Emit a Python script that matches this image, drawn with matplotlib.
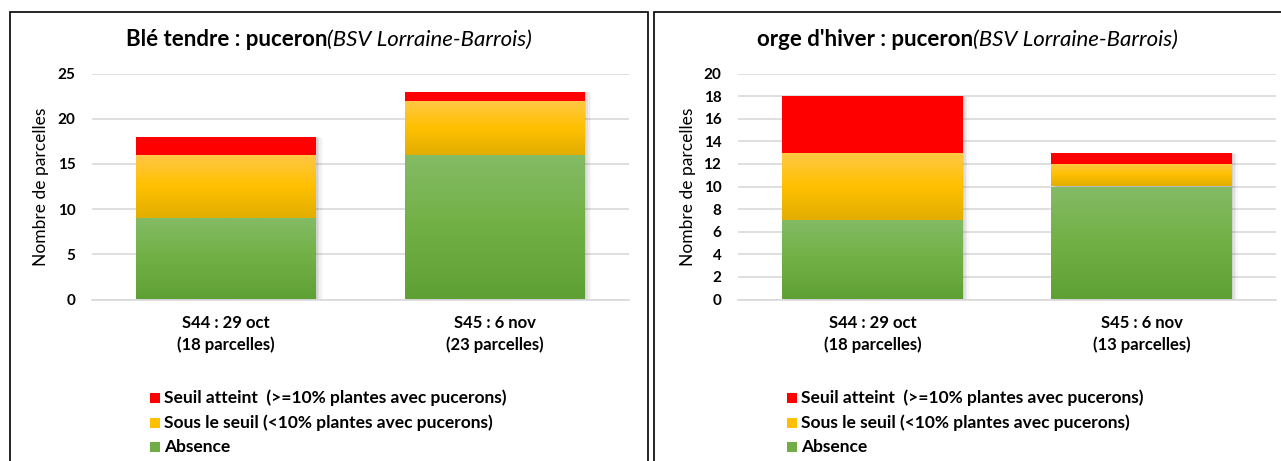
import matplotlib
matplotlib.use("Agg")
import matplotlib.pyplot as plt
import numpy as np
from matplotlib.patches import Rectangle
from matplotlib.colors import LinearSegmentedColormap

# ---- data ----
cats_ble = ["S44 : 29 oct\n(18 parcelles)", "S45 : 6 nov\n(23 parcelles)"]
ble_absence = [9, 16]
ble_sous = [7, 6]
ble_seuil = [2, 1]

cats_orge = ["S44 : 29 oct\n(18 parcelles)", "S45 : 6 nov\n(13 parcelles)"]
orge_absence = [7, 10]
orge_sous = [6, 2]
orge_seuil = [5, 1]

legend_labels = ["Seuil atteint  (>=10% plantes avec pucerons)",
                 "Sous le seuil (<10% plantes avec pucerons)",
                 "Absence"]

plt.rcParams['font.family'] = ['Lato', 'DejaVu Sans']

W, H = 1281, 461
fig = plt.figure(figsize=(W / 100, H / 100), dpi=100)


def fx(px):
    return px / W


def fy(py):
    return 1 - py / H


cmap_green = LinearSegmentedColormap.from_list("g", ["#84BB66", "#71B044", "#5FA035"])
cmap_yellow = LinearSegmentedColormap.from_list("y", ["#FFC847", "#FFC000", "#E2AE00"])
cmap_red = LinearSegmentedColormap.from_list("r", ["#FF0000", "#FF0000"])


def grad_bar(ax, x, bottom, height, width, cmap):
    bars = ax.bar([x], [height], width=width, bottom=[bottom], color='none',
                  edgecolor='none', zorder=3)
    p = bars[0]
    g = np.linspace(0, 1, 64).reshape(-1, 1)
    im = ax.imshow(g, extent=[x - width / 2, x + width / 2, bottom, bottom + height],
                   aspect='auto', cmap=cmap, origin='upper', zorder=3,
                   interpolation='bilinear')
    im.set_clip_path(p)


def panel(left_px, right_px, cats, absence, sous, seuil, ymax, ystep, title_bold,
          border_left, border_right, ylabel_x, legend_x):
    ax = fig.add_axes([fx(left_px), fy(299.5), fx(right_px - left_px), (299.5 - 73.5) / H])
    x = np.arange(len(cats))
    width = 0.67
    absence = np.array(absence)
    sous = np.array(sous)
    seuil = np.array(seuil)
    tot = absence + sous + seuil
    # shadows
    for i in range(len(cats)):
        for k, a in enumerate([0.10, 0.08, 0.06, 0.04]):
            dx = 0.006 * (k + 1)
            ax.add_patch(Rectangle((x[i] - width / 2 + dx, 0), width, tot[i] - 0.05 * ymax / 25 * k,
                                   facecolor='#555555', alpha=a, edgecolor='none', zorder=2))
    for i in range(len(cats)):
        grad_bar(ax, x[i], 0, absence[i], width, cmap_green)
        grad_bar(ax, x[i], absence[i], sous[i], width, cmap_yellow)
        grad_bar(ax, x[i], absence[i] + sous[i], seuil[i], width, cmap_red)
    ax.set_xlim(-0.5, len(cats) - 0.5)
    ax.set_ylim(0, ymax)
    ax.set_yticks(np.arange(0, ymax + 0.1, ystep))
    ax.yaxis.grid(True, color='#D9D9D9', linewidth=1.2, zorder=0)
    ax.set_axisbelow(True)
    for s in ['top', 'right', 'left']:
        ax.spines[s].set_visible(False)
    ax.spines['bottom'].set_color('#D9D9D9')
    ax.spines['bottom'].set_linewidth(1.2)
    ax.tick_params(axis='both', length=0)
    ax.tick_params(axis='y', pad=12, labelsize=11)
    ax.tick_params(axis='x', pad=11, labelsize=12)
    for t in ax.get_yticklabels():
        t.set_fontweight('bold')
    ax.set_xticks(x)
    ax.set_xticklabels(cats, fontweight='bold', linespacing=1.45)
    ax.set_ylabel("Nombre de parcelles", fontsize=12.5)
    ax.yaxis.set_label_coords((ylabel_x - left_px) / (right_px - left_px), 0.5)

    # border
    fig.patches.append(Rectangle((fx(border_left), -0.05), fx(border_right - border_left),
                                 fy(12) + 0.05, transform=fig.transFigure, fill=False,
                                 edgecolor='black', linewidth=1.2))
    # title
    cx = (border_left + min(border_right, W)) / 2
    t1 = fig.text(0, fy(40), title_bold, fontsize=16, fontweight='bold', va='center', ha='left')
    t2 = fig.text(0, fy(40), "(BSV Lorraine-Barrois)", fontsize=16, style='italic', va='center', ha='left')
    fig.canvas.draw()
    r = fig.canvas.get_renderer()
    w1 = t1.get_window_extent(r).width
    w2 = t2.get_window_extent(r).width
    start = cx - (w1 + w2) / 2
    t1.set_x(fx(start))
    t2.set_x(fx(start + w1))

    # legend
    cols = ['#FF0000', '#FFC000', '#70AD47']
    ys = [398, 423, 447]
    for c, y, lab in zip(cols, ys, legend_labels):
        fig.patches.append(Rectangle((fx(legend_x), fy(y + 5)), fx(10), 10 / H,
                                     transform=fig.transFigure, facecolor=c, edgecolor='none'))
        fig.text(fx(legend_x + 14), fy(y), lab, fontsize=12.5, fontweight='bold', va='center', ha='left')
    return ax


panel(92, 629, cats_ble, ble_absence, ble_sous, ble_seuil, 25, 5, "Blé tendre : puceron",
      10, 648, 49, 150)
panel(738, 1276, cats_orge, orge_absence, orge_sous, orge_seuil, 20, 2, "orge d'hiver : puceron",
      654, 1290, 696, 787)

fig.savefig("out.png", dpi=100)
